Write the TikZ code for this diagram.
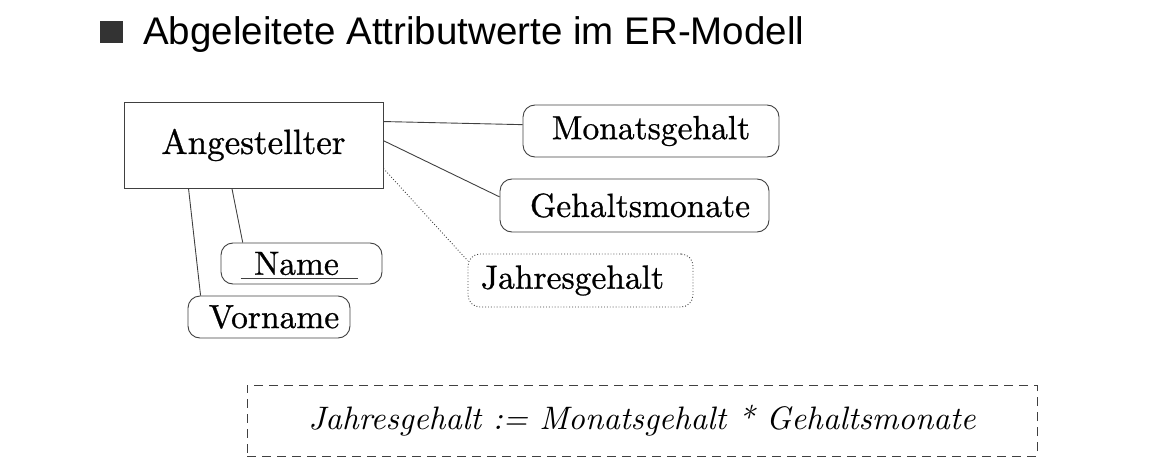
\documentclass[tikz,border=0pt]{standalone}
\usepackage{fontspec}
\usepackage{graphicx}
\newfontfamily\titlefont{Liberation Sans}
\newfontfamily\erfont{Latin Modern Roman}[FakeBold=0.8]
\newcommand\enttxt[1]{\scalebox{3.5}{\fontsize{10}{12}\erfont #1}}
\newcommand\atttxt[1]{\scalebox{3.35}{\fontsize{10}{12}\erfont #1}}
\newcommand\formtxt[1]{\scalebox{3.25}{\fontsize{10}{12}\selectfont\itshape #1}}
\usetikzlibrary{calc}
\begin{document}
\begin{tikzpicture}[x=1pt,y=-1pt,
  line/.style={draw=black!75, line width=0.9pt},
  entity/.style={line, rectangle, minimum width=259pt, minimum height=86pt, inner sep=0pt},
  attr/.style={line, rectangle, rounded corners=12pt, inner sep=0pt},
  derived/.style={attr, dotted},
  formula/.style={draw=black!75, line width=0.9pt, dash pattern=on 9pt off 6pt, minimum width=790pt, minimum height=71pt, inner sep=0pt}
]
\useasboundingbox (0,0) rectangle (1153,468);
% title
\fill[black!80] (100,21) rectangle (123,43);
\node[anchor=base west, inner sep=0pt, font=\titlefont\fontsize{38.5}{44}\selectfont] (title) at (143,45) {Abgeleitete Attributwerte im ER-Modell};
% entity and attributes
\node[entity] (ent) at (253.5,145) {\enttxt{Angestellter}};
\node[attr, minimum width=256pt, minimum height=52pt] (mon) at (651,131) {\atttxt{Monatsgehalt}};
\node[attr, minimum width=269pt, minimum height=53pt] (geh) at (634.5,205.5) {\hspace*{11pt}\atttxt{Gehaltsmonate}};
\node[derived, minimum width=225pt, minimum height=53pt] (jah) at (580.5,280.5) {\atttxt{Jahresgehalt}\hspace*{16pt}};
\node[attr, minimum width=161pt, minimum height=41pt] (name) at (301.5,263.5) {\atttxt{Name}\hspace*{10pt}};
\node[attr, minimum width=162pt, minimum height=42pt] (vor) at (269,317) {\hspace*{10pt}\atttxt{Vorname}};
\draw[line] ($(name.center)+(-61,14.5)$) -- ($(name.center)+(56,14.5)$);
% connectors
\draw[line] ($(ent.north east)!0.23!(ent.south east)$) -- ($(mon.north west)!0.38!(mon.south west)$);
\draw[line] ($(ent.north east)!0.45!(ent.south east)$) -- ($(geh.north west)!0.34!(geh.south west)$);
\draw[line, dotted] ($(ent.north east)!0.77!(ent.south east)$) -- ($(jah.north west)!0.13!(jah.south west)$);
\draw[line] ($(ent.south west)!0.417!(ent.south east)$) -- ($(name.north west)!0.137!(name.north east)$);
\draw[line] ($(ent.south west)!0.25!(ent.south east)$) -- ($(vor.north west)!0.08!(vor.north east)$);
% formula
\node[formula] (form) at (642,420.5) {\formtxt{Jahresgehalt := Monatsgehalt * Gehaltsmonate}};
\end{tikzpicture}
\end{document}
